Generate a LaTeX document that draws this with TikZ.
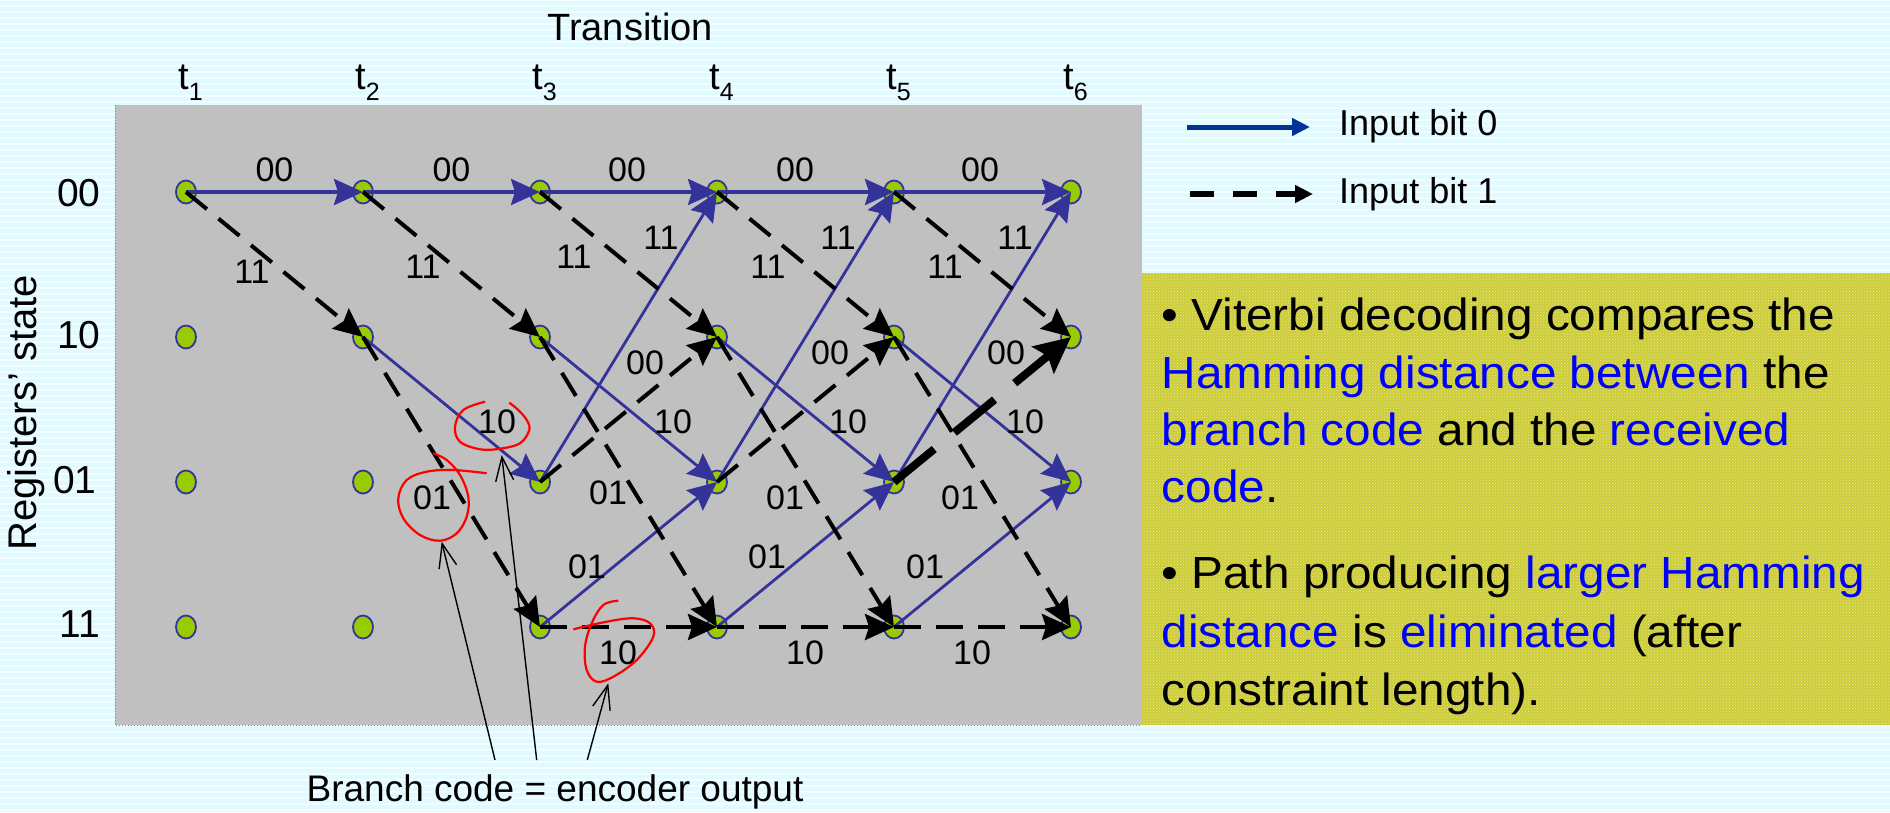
\documentclass[tikz,border=0pt]{standalone}
\usepackage{fontspec}
\setmainfont{Liberation Sans}
\usepackage{graphicx}
\usetikzlibrary{arrows.meta,shapes.geometric,patterns}
\definecolor{bgcyan}{RGB}{224,250,255}
\definecolor{panelgray}{RGB}{192,192,192}
\definecolor{trellisblue}{RGB}{51,51,153}
\definecolor{legendblue}{RGB}{0,51,153}
\definecolor{nodegreen}{RGB}{153,204,0}
\definecolor{boxyellow}{RGB}{204,204,56}
\definecolor{specklecol}{RGB}{232,232,150}
\definecolor{textblue}{RGB}{0,0,255}
\newcommand\bluetext[1]{\textcolor{textblue}{#1}}
\begin{document}
\begin{tikzpicture}[x=1pt,y=-1pt,
  state/.style={ellipse, draw=trellisblue, line width=1.8pt, fill=nodegreen, minimum width=20pt, minimum height=23pt, inner sep=0pt},
  zeroedge/.style={draw=trellisblue, line width=2.8pt, -{Stealth[length=29pt,width=26pt,inset=4pt]}},
  zerotop/.style={zeroedge, line width=3.6pt},
  oneedge/.style={draw=black, line width=4pt, dash pattern=on 27pt off 15pt, -{Stealth[length=29pt,width=26pt,inset=4pt]}},
  onethick/.style={draw=black, line width=8pt, dash pattern=on 52pt off 26pt, -{Stealth[length=36pt,width=34pt,inset=6pt]}},
  elab/.style={font=\fontsize{34}{40}\selectfont, inner sep=0pt},
  rlab/.style={font=\fontsize{38}{45}\selectfont, inner sep=0pt},
  leglab/.style={font=\fontsize{36}{42}\selectfont, inner sep=0pt, anchor=base west},
  redmark/.style={draw=red, line width=2.2pt},
  callout/.style={draw=black, line width=1.4pt, -{Straight Barb[length=24pt,width=18pt]}},
  boxtext/.style={anchor=base west, inner sep=0pt, font=\fontsize{45}{54}\selectfont},
]
\useasboundingbox (0,0) rectangle (1890,812);
% background
\fill[bgcyan] (0,0) rectangle (1890,812);
\foreach \yy in {0,6,...,810} {\draw[white, opacity=0.6, line width=2.5pt] (0,\yy) -- (1890,\yy);}
% gray panel
\fill[panelgray] (115,105) rectangle (1142,725);
\draw[gray, dotted, line width=1pt] (115,105) -- (115,725) -- (1142,725);
% yellow box
\fill[boxyellow] (1142,273) rectangle (1890,725);
\fill[pattern=crosshatch dots, pattern color=specklecol] (1142,273) rectangle (1890,725);

% titles
\node[rlab, anchor=base] (ttl) at (630,40) {Transition};
\foreach \i in {1,...,6} {
  \node[rlab, anchor=base west] (t\i) at ({186+177*(\i-1)-8},89.5) {t\raisebox{-11pt}{\fontsize{25}{25}\selectfont \i}};
}
\node[font=\fontsize{40}{46}\selectfont, rotate=90, inner sep=0pt] (ylab) at (26,413) {Registers’ state};
\node[rlab, font=\fontsize{39}{46}\selectfont] (r1) at (79,193) {00};
\node[rlab, font=\fontsize{39}{46}\selectfont] (r2) at (79,335) {10};
\node[rlab, font=\fontsize{39}{46}\selectfont] (r3) at (75,480) {01};
\node[rlab, font=\fontsize{39}{46}\selectfont] (r4) at (80,624) {11};

% states
\foreach \i in {1,...,6} {
  \foreach \r/\y in {1/192,2/337,3/482,4/627} {
    \node[state] (n\i\r) at ({186+177*(\i-1)},\y) {};
  }
}

% edges t1->t2
\draw[zerotop] (n11.center) -- (n21.center);
\draw[oneedge] (n11.center) -- (n22.center);
% t2->t3
\draw[zerotop] (n21.center) -- (n31.center);
\draw[oneedge] (n21.center) -- (n32.center);
\draw[zeroedge] (n22.center) -- (n33.center);
\draw[oneedge] (n22.center) -- (n34.center);
% t3..t6
\foreach \i/\j in {3/4,4/5,5/6} {
  \draw[zerotop] (n\i1.center) -- (n\j1.center);
  \draw[zeroedge] (n\i2.center) -- (n\j3.center);
  \draw[zeroedge] (n\i3.center) -- (n\j1.center);
  \draw[zeroedge] (n\i4.center) -- (n\j3.center);
  \draw[oneedge] (n\i1.center) -- (n\j2.center);
  \draw[oneedge] (n\i2.center) -- (n\j4.center);
  \draw[oneedge] (n\i4.center) -- (n\j4.center);
}
\draw[oneedge] (n33.center) -- (n42.center);
\draw[oneedge] (n43.center) -- (n52.center);
\draw[onethick] (n53.center) -- (n62.center);

% edge labels
\node[elab] (a1) at (274.5,170) {00};
\node[elab] (a2) at (451.5,170) {00};
\node[elab] (a3) at (627,170) {00};
\node[elab] (a4) at (795,170) {00};
\node[elab] (a5) at (980,170) {00};
\node[elab] (b1) at (252,272) {11};
\node[elab] (b2) at (423,267) {11};
\node[elab] (b3) at (574,257) {11};
\node[elab] (b4) at (768,267) {11};
\node[elab] (b5) at (945,267) {11};
\node[elab] (c3) at (661,238) {11};
\node[elab] (c4) at (838,238) {11};
\node[elab] (c5) at (1015,238) {11};
\node[elab] (d3) at (645,363) {00};
\node[elab] (d4) at (830,353) {00};
\node[elab] (d5) at (1006,353) {00};
\node[elab] (e2) at (497,422) {10};
\node[elab] (e3) at (673,422) {10};
\node[elab] (e4) at (848,422) {10};
\node[elab] (e5) at (1025,422) {10};
\node[elab] (f2) at (432,498) {01};
\node[elab] (f3) at (608,493) {01};
\node[elab] (f4) at (785,498) {01};
\node[elab] (f5) at (960,498) {01};
\node[elab] (g3) at (587,567) {01};
\node[elab] (g4) at (767,557) {01};
\node[elab] (g5) at (925,567) {01};
\node[elab] (h3) at (618,653) {10};
\node[elab] (h4) at (805,653) {10};
\node[elab] (h5) at (972,653) {10};

% red hand-drawn circles
\draw[redmark] plot[smooth, tension=0.6] coordinates {(485,401.7) (463.3,410) (455,426.7) (460,441.7) (480,449.3) (500,448.7) (520,443.3) (529.3,430) (526.7,420) (518.3,410) (509.3,402.7)};
\draw[redmark] plot[smooth, tension=0.6] coordinates {(433.3,453.3) (446.7,460) (460,475) (468.3,496.7) (466.7,516.7) (456.7,533.3) (440,540.7) (420,535) (403.3,518.3) (398.3,498.3) (406.7,480) (426.7,471.7) (453.3,470) (486.7,473.3)};
\draw[redmark] plot[smooth, tension=0.6] coordinates {(618.3,600.7) (603.3,605) (591.7,623.3) (585,646.7) (586.7,670) (596.7,681.7) (613.3,676.7) (636.7,660) (653.3,636.7) (650,623.3) (633.3,618.3) (606.7,621.7) (573.3,629.3)};

% callouts
\node[rlab, font=\fontsize{37}{44}\selectfont, anchor=base] (bcode) at (555,801) {Branch code = encoder output};
\coordinate (c1s) at (495,760);
\coordinate (c1e) at (441.7,541.7);
\coordinate (c2s) at (536.7,760);
\coordinate (c2e) at (501.7,455);
\coordinate (c3s) at (587.3,760);
\coordinate (c3e) at (608.3,683.3);
\draw[callout] (c1s) -- (c1e);
\draw[callout] (c2s) -- (c2e);
\draw[callout] (c3s) -- (c3e);

% legend
\coordinate (lg0a) at (1187,127);
\coordinate (lg0b) at (1310,127);
\coordinate (lg1a) at (1190,194);
\coordinate (lg1b) at (1313,194);
\draw[legendblue, line width=5pt, -{Triangle[length=18pt,width=17pt]}] (lg0a) -- (lg0b);
\draw[black, line width=5.5pt, dash pattern=on 24pt off 19pt, -{Triangle[length=18pt,width=17pt]}] (lg1a) -- (lg1b);
\node[leglab] (lgt0) at (1339,135) {Input bit 0};
\node[leglab] (lgt1) at (1339,203) {Input bit 1};

% yellow box text
\node[boxtext] (x1) at (1161.5,330) {\scalebox{1.06}[1]{\textbullet{} Viterbi decoding compares the}};
\node[boxtext] (x2) at (1161.5,388) {\scalebox{1.06}[1]{\bluetext{Hamming distance between} the}};
\node[boxtext] (x3) at (1161.5,445) {\scalebox{1.06}[1]{\bluetext{branch code} and the \bluetext{received}}};
\node[boxtext] (x4) at (1161.5,502) {\scalebox{1.06}[1]{\bluetext{code}.}};
\node[boxtext] (x5) at (1161.5,588) {\scalebox{1.06}[1]{\textbullet{} Path producing \bluetext{larger Hamming}}};
\node[boxtext] (x6) at (1161.5,647) {\scalebox{1.06}[1]{\bluetext{distance} is \bluetext{eliminated} (after}};
\node[boxtext] (x7) at (1161.5,705) {\scalebox{1.06}[1]{constraint length).}};
\end{tikzpicture}
\end{document}
